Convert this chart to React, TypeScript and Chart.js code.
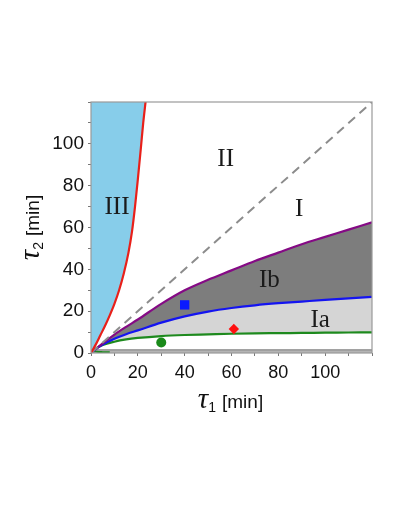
import React, { useEffect, useRef } from "react";
import { Chart, registerables } from "chart.js";

Chart.register(...registerables);

// sampled tau1 values [min]
const tau1Samples = [0, 2, 5, 10, 15, 20, 30, 40, 50, 60, 70, 80, 90, 100, 110, 120];
// upper boundary of region Ib (purple)
const purpleVals = [0, 1.9, 4.6, 8.8, 12.5, 16, 23.5, 30, 35, 39.5, 44, 48, 52, 55.5, 59, 62.5];
// boundary between Ib and Ia (blue)
const blueVals = [0, 1.8, 4, 6.8, 9, 10.8, 14.5, 17.5, 19.8, 21.5, 22.8, 23.8, 24.6, 25.4, 26.1, 26.8];
// lower boundary of region Ia (green)
const greenVals = [0, 2, 3.8, 5.4, 6.5, 7.2, 8.1, 8.6, 8.9, 9.2, 9.4, 9.5, 9.6, 9.7, 9.8, 9.9];
// bottom band
const bandVals = [1.5, 1.5, 1.5, 1.5, 1.5, 1.5, 1.5, 1.5, 1.5, 1.5, 1.5, 1.5, 1.5, 1.5, 1.5, 1.5];

// red boundary of region III
const redTau1 = [0, 2, 4, 6, 8, 10, 12, 14, 16, 17.5, 18.8, 20, 21.3, 22.3, 23.3];
const redTau2 = [0, 4, 8.5, 13, 18, 23.5, 30, 38, 48, 58, 70, 83, 98, 110, 120];

// small green hook near the origin
const hookTau1 = [0.4, 1.2, 2.5, 5, 8];
const hookTau2 = [1.6, 0.9, 0.6, 0.45, 0.4];

// diagonal tau2 = tau1
const diagTau = [0, 120];

// markers
const markerGreen = { x: 30, y: 5 };
const markerBlue = { x: 40, y: 23 };
const markerRed = { x: 61, y: 11.5 };

// region labels (data coords, baseline)
const regionLabels = [
  { text: "III", x: 11.1, y: 66.3 },
  { text: "II", x: 57.5, y: 89.4 },
  { text: "I", x: 88.9, y: 65.4 },
  { text: "Ib", x: 76.2, y: 31.7 },
  { text: "Ia", x: 97.9, y: 12.5 },
];

const xTickValues = [0, 20, 40, 60, 80, 100];
const yTickValues = [0, 20, 40, 60, 80, 100];

const zip = (xs: number[], ys: number[]) => xs.map((x, i) => ({ x, y: ys[i] }));

function drawTitle(ctx: CanvasRenderingContext2D, sub: string, cx: number) {
  const fTau = 'italic 29px "Liberation Serif"';
  const fSub = '14px "Liberation Sans"';
  const fUnit = '19px "Liberation Sans"';
  ctx.font = fTau;
  const wTau = ctx.measureText("τ").width;
  ctx.font = fSub;
  const wSub = ctx.measureText(sub).width;
  ctx.font = fUnit;
  const wUnit = ctx.measureText("[min]").width;
  const gap = 6;
  const total = wTau + wSub + gap + wUnit;
  let x = cx - total / 2;
  ctx.textAlign = "left";
  ctx.textBaseline = "alphabetic";
  ctx.fillStyle = "#111";
  ctx.font = fTau;
  ctx.fillText("τ", x, 0);
  x += wTau;
  ctx.font = fSub;
  ctx.fillText(sub, x, 4);
  x += wSub + gap;
  ctx.font = fUnit;
  ctx.fillText("[min]", x, 0);
}

const overlayPlugin = {
  id: "overlay",
  afterDatasetsDraw(chart: any) {
    const { ctx, chartArea, scales } = chart;
    ctx.save();
    // frame
    ctx.strokeStyle = "#9a9a9a";
    ctx.lineWidth = 1.2;
    ctx.strokeRect(chartArea.left, chartArea.top, chartArea.right - chartArea.left, chartArea.bottom - chartArea.top);
    // region labels
    ctx.font = '25px "Liberation Serif"';
    ctx.fillStyle = "#1a1a1a";
    ctx.textAlign = "center";
    ctx.textBaseline = "alphabetic";
    for (const l of regionLabels) {
      ctx.fillText(l.text, scales.x.getPixelForValue(l.x), scales.y.getPixelForValue(l.y));
    }
    ctx.restore();
  },
  afterDraw(chart: any) {
    const { ctx, chartArea } = chart;
    ctx.save();
    ctx.translate(0, 408);
    drawTitle(ctx, "1", (chartArea.left + chartArea.right) / 2 - 1);
    ctx.restore();
    ctx.save();
    ctx.translate(39, (chartArea.top + chartArea.bottom) / 2);
    ctx.rotate(-Math.PI / 2);
    drawTitle(ctx, "2", 0);
    ctx.restore();
  },
};

export default function App() {
  const ref = useRef<HTMLCanvasElement | null>(null);
  useEffect(() => {
    if (!ref.current) return;
    const lineBase = { pointRadius: 0, borderWidth: 2.2, cubicInterpolationMode: "monotone" as const };
    const chart = new Chart(ref.current, {
      type: "line",
      data: {
        datasets: [
          { ...lineBase, label: "green marker", data: [markerGreen], pointStyle: "circle", pointRadius: 5, backgroundColor: "#1a8a1a", borderColor: "#1a8a1a", borderWidth: 0, showLine: false },
          { ...lineBase, label: "blue marker", data: [markerBlue], pointStyle: "rect", pointRadius: 6.6, backgroundColor: "#0a1aff", borderColor: "#0a1aff", borderWidth: 0, showLine: false },
          { ...lineBase, label: "red marker", data: [markerRed], pointStyle: "rectRot", pointRadius: 5.2, backgroundColor: "#ff1010", borderColor: "#ff1010", borderWidth: 0, showLine: false },
          { ...lineBase, label: "red", data: zip(redTau1, redTau2), borderColor: "#e8201a", fill: "end", backgroundColor: "#87cdea" },
          { ...lineBase, label: "diag", data: zip(diagTau, diagTau), borderColor: "#8c8c8c", borderDash: [9, 6], borderWidth: 2, fill: false, cubicInterpolationMode: "default" as any },
          { ...lineBase, label: "purple", data: zip(tau1Samples, purpleVals), borderColor: "#850a85", fill: "+1", backgroundColor: "#7d7d7d" },
          { ...lineBase, label: "blue", data: zip(tau1Samples, blueVals), borderColor: "#1414f0", fill: "+1", backgroundColor: "#d5d5d5" },
          { ...lineBase, label: "green", data: zip(tau1Samples, greenVals), borderColor: "#1e8a1e", fill: false },
          { ...lineBase, label: "hook", data: zip(hookTau1, hookTau2), borderColor: "#1e8a1e", fill: false, borderWidth: 1.8 },
          { ...lineBase, label: "band", data: zip(tau1Samples, bandVals), borderColor: "#8a8a8a", borderWidth: 1.2, fill: "origin", backgroundColor: "#b4b4b4" },
        ],
      },
      options: {
        animation: false,
        responsive: true,
        maintainAspectRatio: false,
        layout: { padding: { left: 0, top: 102, right: 27, bottom: 103 } },
        plugins: { legend: { display: false }, tooltip: { enabled: false }, filler: { drawTime: "beforeDatasetsDraw" } },
        scales: {
          x: {
            type: "linear",
            min: 0,
            max: 120,
            afterFit: (s: any) => { s.height = 60; },
            afterBuildTicks: (s: any) => { s.ticks = Array.from({ length: 13 }, (_, i) => ({ value: i * 10 })); },
            ticks: {
              autoSkip: false,
              maxRotation: 0,
              padding: 6,
              color: "#111",
              font: { family: '"Liberation Sans"', size: 18 },
              callback: (v: any) => (xTickValues.includes(Number(v)) ? String(v) : ""),
            },
            grid: { display: true, drawOnChartArea: false, drawTicks: true, tickLength: 3, color: "#777" },
            border: { display: false },
          },
          y: {
            type: "linear",
            min: 0,
            max: 120,
            afterFit: (s: any) => { s.width = 91; },
            afterBuildTicks: (s: any) => { s.ticks = Array.from({ length: 13 }, (_, i) => ({ value: i * 10 })); },
            ticks: {
              autoSkip: false,
              padding: 4,
              color: "#111",
              font: { family: '"Liberation Sans"', size: 19 },
              callback: (v: any) => (yTickValues.includes(Number(v)) ? String(v) : ""),
            },
            grid: { display: true, drawOnChartArea: false, drawTicks: true, tickLength: 3, color: "#777" },
            border: { display: false },
          },
        },
      },
      plugins: [overlayPlugin],
    } as any);
    return () => chart.destroy();
  }, []);
  return (
    <div style={{ position: "absolute", left: 0, top: 0, width: 399, height: 516, background: "#fff" }}>
      <canvas ref={ref} />
    </div>
  );
}
